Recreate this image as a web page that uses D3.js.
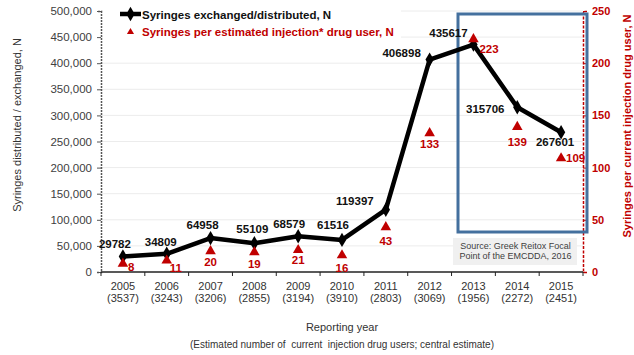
<!DOCTYPE html>
<html>
<head>
<meta charset="utf-8">
<script src="https://cdn.jsdelivr.net/npm/d3@7"></script>
<style>
  html, body { margin: 0; padding: 0; background: #fff; }
  svg { display: block; font-family: "Liberation Sans", Arial, sans-serif; }
</style>
</head>
<body>
<svg id="chart" width="634" height="355"></svg>
<script>
// Reporting years and estimated number of current injection drug users
const years = ["2005", "2006", "2007", "2008", "2009", "2010", "2011", "2012", "2013", "2014", "2015"];
const pwidEstimates = ["3537", "3243", "3206", "2855", "3194", "3910", "2803", "3069", "1956", "2272", "2451"];

// Syringes exchanged/distributed, N
const syringes = [29782, 34809, 64958, 55109, 68579, 61516, 119397, 406898, 435617, 315706, 267601];
// Syringes per estimated injection drug user, N
const perUser = [8, 11, 20, 19, 21, 16, 43, 133, 223, 139, 109];

// Axis ticks
const leftTicks = [0, 50000, 100000, 150000, 200000, 250000, 300000, 350000, 400000, 450000, 500000];
const rightTicks = [0, 50, 100, 150, 200, 250];

// Label placement around each point: [dx, dy, anchor]
const countLabelPos = [
  [-8, -8, "middle"], [-6, -8, "middle"], [-8, -9, "middle"], [-2, -10, "middle"],
  [-9, -8, "middle"], [-9, -11, "middle"], [-31, -5, "middle"], [-28, -3, "middle"],
  [-25, -8, "middle"], [-32, 6, "middle"], [-6, 14, "middle"]
];
const rateLabelPos = [
  [5, 7, "start"], [3, 11, "start"], [0, 15, "middle"], [0, 16, "middle"],
  [0, 14, "middle"], [0, 17, "middle"], [0, 18, "middle"], [0, 15, "middle"],
  [6, 14, "start"], [0, 19, "middle"], [5, 4, "start"]
];

const RED = "#c00000";
const svg = d3.select("#chart");

const plot = { left: 101, right: 583, top: 11, bottom: 272 };

const x = d3.scaleBand().domain(years).range([plot.left, plot.right]).padding(0);
const yL = d3.scaleLinear().domain([0, 500000]).range([plot.bottom, plot.top]);
const yR = d3.scaleLinear().domain([0, 250]).range([plot.bottom, plot.top]);
const cx = d => x(d) + x.bandwidth() / 2;

// Horizontal gridlines
svg.append("g")
  .selectAll("line")
  .data(leftTicks.filter(t => t > 0))
  .join("line")
  .attr("x1", plot.left).attr("x2", plot.right)
  .attr("y1", d => yL(d)).attr("y2", d => yL(d))
  .attr("stroke", "#ececec").attr("stroke-width", 1);

// Legend background
svg.append("rect")
  .attr("x", plot.left + 2).attr("y", 0)
  .attr("width", 298).attr("height", 44)
  .attr("fill", "#fff");

// Left axis
const leftAxis = svg.append("g")
  .attr("transform", `translate(${plot.left},0)`)
  .call(d3.axisLeft(yL).tickValues(leftTicks).tickSize(4).tickPadding(5)
    .tickFormat(d3.format(",")));
leftAxis.select(".domain").attr("stroke", "#555").attr("stroke-width", 1.5)
  .attr("stroke-dasharray", "2,1");
leftAxis.selectAll(".tick line").attr("stroke", "#555");
leftAxis.selectAll("text").attr("fill", "#404040")
  .style("font-size", "11.5px").style("font-family", "Liberation Sans, Arial, sans-serif");

// Right axis
const rightAxis = svg.append("g")
  .attr("transform", `translate(${plot.right},0)`)
  .call(d3.axisRight(yR).tickValues(rightTicks).tickSize(4).tickPadding(5));
rightAxis.select(".domain").attr("stroke", RED).attr("stroke-width", 1.5)
  .attr("stroke-dasharray", "3,1.5");
rightAxis.selectAll(".tick line").attr("stroke", RED);
rightAxis.selectAll("text").attr("fill", RED)
  .style("font-size", "11px").style("font-weight", "bold")
  .style("font-family", "Liberation Sans, Arial, sans-serif");

// Bottom axis with ticks between categories
const xAxis = svg.append("g")
  .attr("transform", `translate(0,${plot.bottom})`);
xAxis.append("line")
  .attr("x1", plot.left).attr("x2", plot.right)
  .attr("y1", 0).attr("y2", 0)
  .attr("stroke", "#222").attr("stroke-width", 1.5);
const boundaries = years.map(d => x(d)).concat([plot.right]);
xAxis.selectAll(".bt")
  .data(boundaries)
  .join("line")
  .attr("class", "bt")
  .attr("x1", d => d).attr("x2", d => d)
  .attr("y1", 0).attr("y2", 4)
  .attr("stroke", "#222");
const xl = xAxis.selectAll(".xl")
  .data(years)
  .join("text")
  .attr("class", "xl")
  .attr("text-anchor", "middle")
  .attr("fill", "#333")
  .style("font-size", "11px");
xl.append("tspan").attr("x", d => cx(d)).attr("y", 18).text(d => d);
xl.append("tspan").attr("x", d => cx(d)).attr("y", 30)
  .text((d, i) => `(${pwidEstimates[i]})`);

// Axis titles
svg.append("text")
  .attr("transform", "translate(342,331)")
  .attr("text-anchor", "middle").attr("fill", "#333")
  .style("font-size", "11px")
  .text("Reporting year");
svg.append("text")
  .attr("transform", "translate(342,348)")
  .attr("text-anchor", "middle").attr("fill", "#333")
  .style("font-size", "10px")
  .attr("xml:space", "preserve")
  .text("(Estimated number of  current  injection drug users; central estimate)");
svg.append("text")
  .attr("transform", "translate(21,125) rotate(-90)")
  .attr("text-anchor", "middle").attr("fill", "#333")
  .style("font-size", "11px")
  .text("Syringes distributed / exchanged, N");
svg.append("text")
  .attr("transform", "translate(630.5,126) rotate(-90)")
  .attr("text-anchor", "middle").attr("fill", RED)
  .style("font-size", "11px").style("font-weight", "bold")
  .text("Syringes per current injection drug user, N");

// Highlight box for recent years
svg.append("rect")
  .attr("x", 458).attr("y", 14)
  .attr("width", 129).attr("height", 218)
  .attr("fill", "none").attr("stroke", "#44709e").attr("stroke-width", 3);

// Source note
svg.append("rect")
  .attr("x", 453).attr("y", 238)
  .attr("width", 124).attr("height", 27)
  .attr("fill", "#f0f0f0");
const src = svg.append("text")
  .attr("fill", "#404040")
  .attr("text-anchor", "middle")
  .style("font-size", "9px");
src.append("tspan").attr("x", 515.5).attr("y", 249).text("Source: Greek Reitox Focal");
src.append("tspan").attr("x", 515.5).attr("y", 258.5).text("Point of the EMCDDA, 2016");

// Syringes line with markers
svg.append("path")
  .datum(syringes)
  .attr("fill", "none")
  .attr("stroke", "#000")
  .attr("stroke-width", 4.5)
  .attr("stroke-linejoin", "round")
  .attr("d", d3.line().x((d, i) => cx(years[i])).y(d => yL(d)));
svg.append("g")
  .selectAll("path")
  .data(syringes)
  .join("path")
  .attr("transform", (d, i) => `translate(${cx(years[i])},${yL(d)})`)
  .attr("d", d3.symbol(d3.symbolDiamond, 60))
  .attr("fill", "#000");

// Per-user triangles
svg.append("g")
  .selectAll("path")
  .data(perUser)
  .join("path")
  .attr("transform", (d, i) => `translate(${cx(years[i])},${yR(d)})`)
  .attr("d", d3.symbol(d3.symbolTriangle, 48))
  .attr("fill", RED);

// Value labels
svg.append("g")
  .selectAll("text")
  .data(syringes)
  .join("text")
  .attr("x", (d, i) => cx(years[i]) + countLabelPos[i][0])
  .attr("y", (d, i) => yL(d) + countLabelPos[i][1])
  .attr("text-anchor", (d, i) => countLabelPos[i][2])
  .attr("fill", "#111")
  .style("font-size", "11.5px").style("font-weight", "bold")
  .text(d => d);
svg.append("g")
  .selectAll("text")
  .data(perUser)
  .join("text")
  .attr("x", (d, i) => cx(years[i]) + rateLabelPos[i][0])
  .attr("y", (d, i) => yR(d) + rateLabelPos[i][1])
  .attr("text-anchor", (d, i) => rateLabelPos[i][2])
  .attr("fill", RED)
  .style("font-size", "11.5px").style("font-weight", "bold")
  .text(d => d);

// Legend
const lg = svg.append("g");
lg.append("line")
  .attr("x1", 120).attr("x2", 141).attr("y1", 14).attr("y2", 14)
  .attr("stroke", "#000").attr("stroke-width", 4.5);
lg.append("path")
  .attr("transform", "translate(130.5,14)")
  .attr("d", d3.symbol(d3.symbolDiamond, 60))
  .attr("fill", "#000");
lg.append("text")
  .attr("x", 142).attr("y", 18.5)
  .attr("fill", "#111")
  .style("font-size", "11.5px").style("font-weight", "bold")
  .text("Syringes exchanged/distributed, N");
lg.append("path")
  .attr("transform", "translate(130.5,32)")
  .attr("d", d3.symbol(d3.symbolTriangle, 22))
  .attr("fill", RED);
lg.append("text")
  .attr("x", 142).attr("y", 36)
  .attr("fill", RED)
  .style("font-size", "11.5px").style("font-weight", "bold")
  .text("Syringes per estimated injection* drug user, N");
</script>
</body>
</html>
